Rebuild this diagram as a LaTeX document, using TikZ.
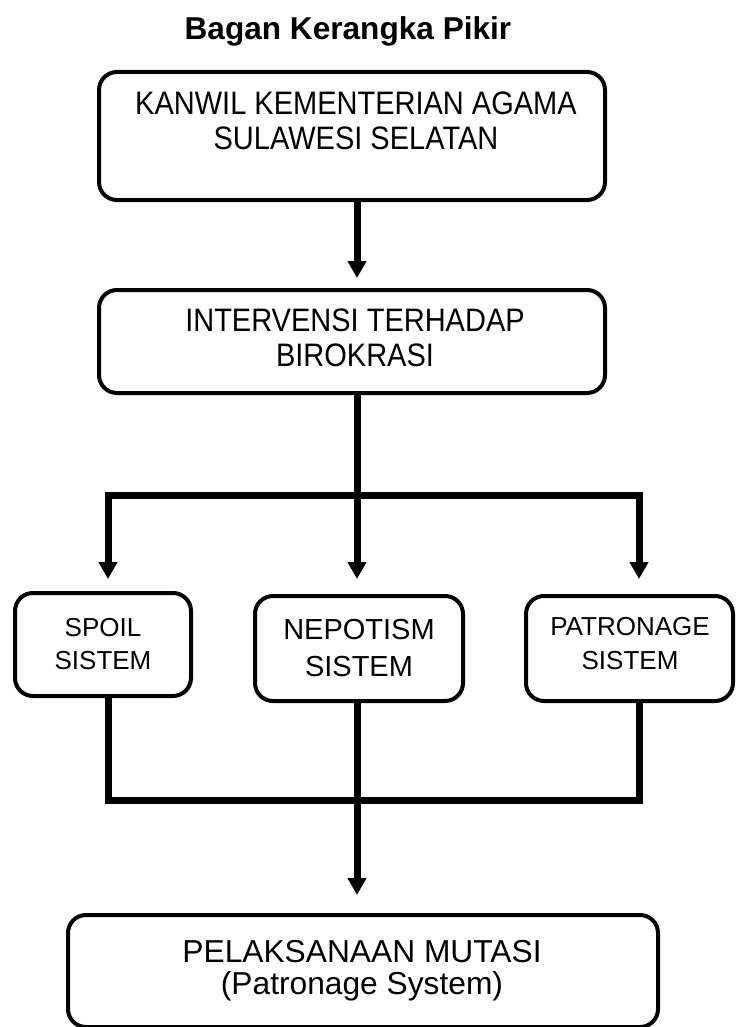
\documentclass[tikz,border=0pt]{standalone}
\usepackage{fontspec}
\usepackage{graphicx}
\setmainfont{Liberation Sans}
\usetikzlibrary{arrows.meta}
\newcommand{\tallline}[1]{\scalebox{1}[1.12]{#1}}
\begin{document}
\begin{tikzpicture}[x=0.75pt,y=-0.75pt,
  box/.style={draw, line width=3pt, rounded corners=13.5pt, inner sep=0pt},
  conn/.style={line width=5.25pt, line join=miter},
  tip/.style={-{Triangle[length=12.75pt,width=13.5pt]}},
  bitip/.style={{Triangle[length=12.75pt,width=13.5pt]}-{Triangle[length=12.75pt,width=13.5pt]}},
  txt/.style={align=center, inner sep=0pt, anchor=north}]
\useasboundingbox (0,0) rectangle (738,1027);
% title
\node[font=\bfseries\fontsize{23.7pt}{28pt}\selectfont, anchor=base, inner sep=0pt] (title) at (348,40) {Bagan Kerangka Pikir};
% boxes
\node[box, minimum width=506*0.75pt, minimum height=128*0.75pt] (k1) at (352,136) {};
\node[box, minimum width=506*0.75pt, minimum height=103*0.75pt] (k2) at (352,341.5) {};
\node[box, minimum width=176*0.75pt, minimum height=103*0.75pt] (sp) at (103,644.5) {};
\node[box, minimum width=208*0.75pt, minimum height=105*0.75pt] (ne) at (359,648.5) {};
\node[box, minimum width=207*0.75pt, minimum height=105*0.75pt] (pa) at (629.5,648.5) {};
\node[box, minimum width=590*0.75pt, minimum height=112*0.75pt] (bo) at (363,971) {};
% texts
\node[txt, font=\fontsize{21.75pt}{26.25pt}\selectfont] (k1t) at (356,91.7) {\tallline{KANWIL KEMENTERIAN AGAMA}\\\tallline{SULAWESI SELATAN}};
\node[txt, font=\fontsize{21.75pt}{26.25pt}\selectfont] (k2t) at (355,308.7) {\tallline{INTERVENSI TERHADAP}\\\tallline{BIROKRASI}};
\node[txt, font=\fontsize{19.5pt}{24.75pt}\selectfont] (spt) at (103,618.4) {SPOIL\\SISTEM};
\node[txt, font=\fontsize{21.75pt}{27.75pt}\selectfont] (net) at (359,619.2) {NEPOTISM\\SISTEM};
\node[txt, font=\fontsize{19.5pt}{25.5pt}\selectfont] (pat) at (630,617.4) {PATRONAGE\\SISTEM};
\node[txt, font=\fontsize{23.8pt}{24pt}\selectfont] (bot) at (362,940) {PELAKSANAAN MUTASI\\(Patronage System)};
% junction coordinates
\coordinate (xL) at (108,0);
\coordinate (xC) at (357,0);
\coordinate (xR) at (639,0);
\coordinate (j1) at (357,495);
\coordinate (j2) at (357,800);
% connectors
\draw[conn, tip, shorten >=7.5pt] (k1.south -| xC) -- (k2.north -| xC);
\draw[conn] (k2.south -| xC) -- (j1);
\draw[conn, bitip, shorten <=9pt, shorten >=11.25pt] (sp.north -| xL) |- (j1) -| (pa.north -| xR);
\draw[conn, tip, shorten >=11.25pt] (j1) -- (ne.north -| xC);
\draw[conn] (sp.south -| xL) |- (j2) -| (pa.south -| xR);
\draw[conn, tip, shorten >=13.5pt] (ne.south -| xC) -- (bo.north -| xC);
\end{tikzpicture}
\end{document}
